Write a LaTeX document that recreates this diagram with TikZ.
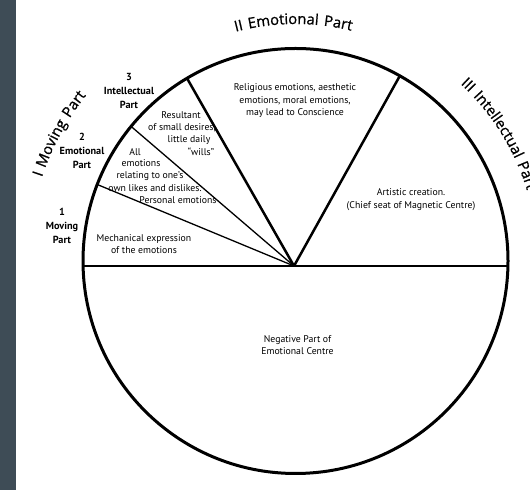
\documentclass[tikz,border=0pt]{standalone}
\usepackage{fontspec}
\setmainfont{PT Sans}
\newfontfamily\arcfam[LetterSpace=10,FakeBold=0.8]{Open Sans}
\usetikzlibrary{decorations.text,calc}
\newcommand\arcfont{\arcfam\fontsize{14.8}{15}\selectfont}
\definecolor{stripcol}{HTML}{3E4C56}
\tikzset{
  small/.style={font=\fontsize{9.8}{12.5}\selectfont, inner sep=0pt, align=center},
  partlabel/.style={font=\fontsize{10.3}{14}\selectfont\bfseries, inner sep=0pt, align=center},
  rim/.style={line width=3bp},
  heavy/.style={line width=2.5bp},
  mid/.style={line width=2bp},
  thin/.style={line width=1.3bp},
}
\begin{document}
\begin{tikzpicture}[x=1bp,y=1bp]
\useasboundingbox (0,0) rectangle (530,490);
\clip (0,0) rectangle (530,490);
\fill[white] (0,0) rectangle (530,490);
\fill[stripcol] (0,0) rectangle (15.5,490);

\coordinate (C) at (295.5,229);
\coordinate (H) at (294,224);
\coordinate (L) at ([shift={(181.35:212.5)}]C);
\coordinate (R) at ([shift={(-1.35:212.5)}]C);
\coordinate (P1) at ([shift={(60.6:212.5)}]C);
\coordinate (P2) at ([shift={(120.7:212.5)}]C);
\coordinate (P3) at ([shift={(140.7:212.5)}]C);
\coordinate (P4) at ([shift={(158.9:212.5)}]C);

\draw[mid] (L) -- (R);
\draw[heavy] (H) -- (P1);
\draw[heavy] (H) -- (P2);
\draw[thin] (H) -- (P3);
\draw[thin] (H) -- (P4);
\draw[rim] (C) circle[radius=212.5];

% curved headings
\path[decorate, decoration={text along path, text align=center,
  text={|\arcfont|I Moving Part}}]
  ([shift={(171.7:267)}]C) arc[start angle=171.7, end angle=131.7, radius=267];
\path[decorate, decoration={text along path, text align=center,
  text={|\arcfont|II Emotional Part}}]
  ([shift={(116.5:237)}]C) arc[start angle=116.5, end angle=64.5, radius=237];
\path[decorate, decoration={text along path, text align=left,
  text={|\arcfont|III Intellectual Part}}]
  ([shift={(47:242)}]C) arc[start angle=47, end angle=-20, radius=242];

% sector texts
\node[small] (relig) at (295,389) {Religious emotions, aesthetic\\emotions, moral emotions,\\may lead to Conscience};
\node[small] (art) at (411,290.5) {Artistic creation.\\(Chief seat of Magnetic Centre)};
\node[small] (neg) at (297.5,145) {Negative Part of\\Emotional Centre};
\node[small] (mech) at (144,246) {Mechanical expression\\of the emotions};

\node[small] (res1) at (181,375) {Resultant};
\node[small] (res2) at (182,362) {of small desires,};
\node[small] (res3) at (189,350) {little daily};
\node[small] (res4) at (201,338) {``wills''};

\node[small] (all1) at (135,338) {All};
\node[small] (all2) at (141,327) {emotions};
\node[small] (all3) at (150,314) {relating to one's};
\node[small] (all4) at (155,302) {own likes and dislikes.};
\node[small] (all5) at (178,290) {Personal emotions};

% part labels
\node[partlabel] (lab3) at (129,399) {3\\Intellectual\\Part};
\node[partlabel] (lab2) at (82,339) {2\\Emotional\\Part};
\node[partlabel] (lab1) at (62,264.5) {1\\Moving\\Part};
\end{tikzpicture}
\end{document}
